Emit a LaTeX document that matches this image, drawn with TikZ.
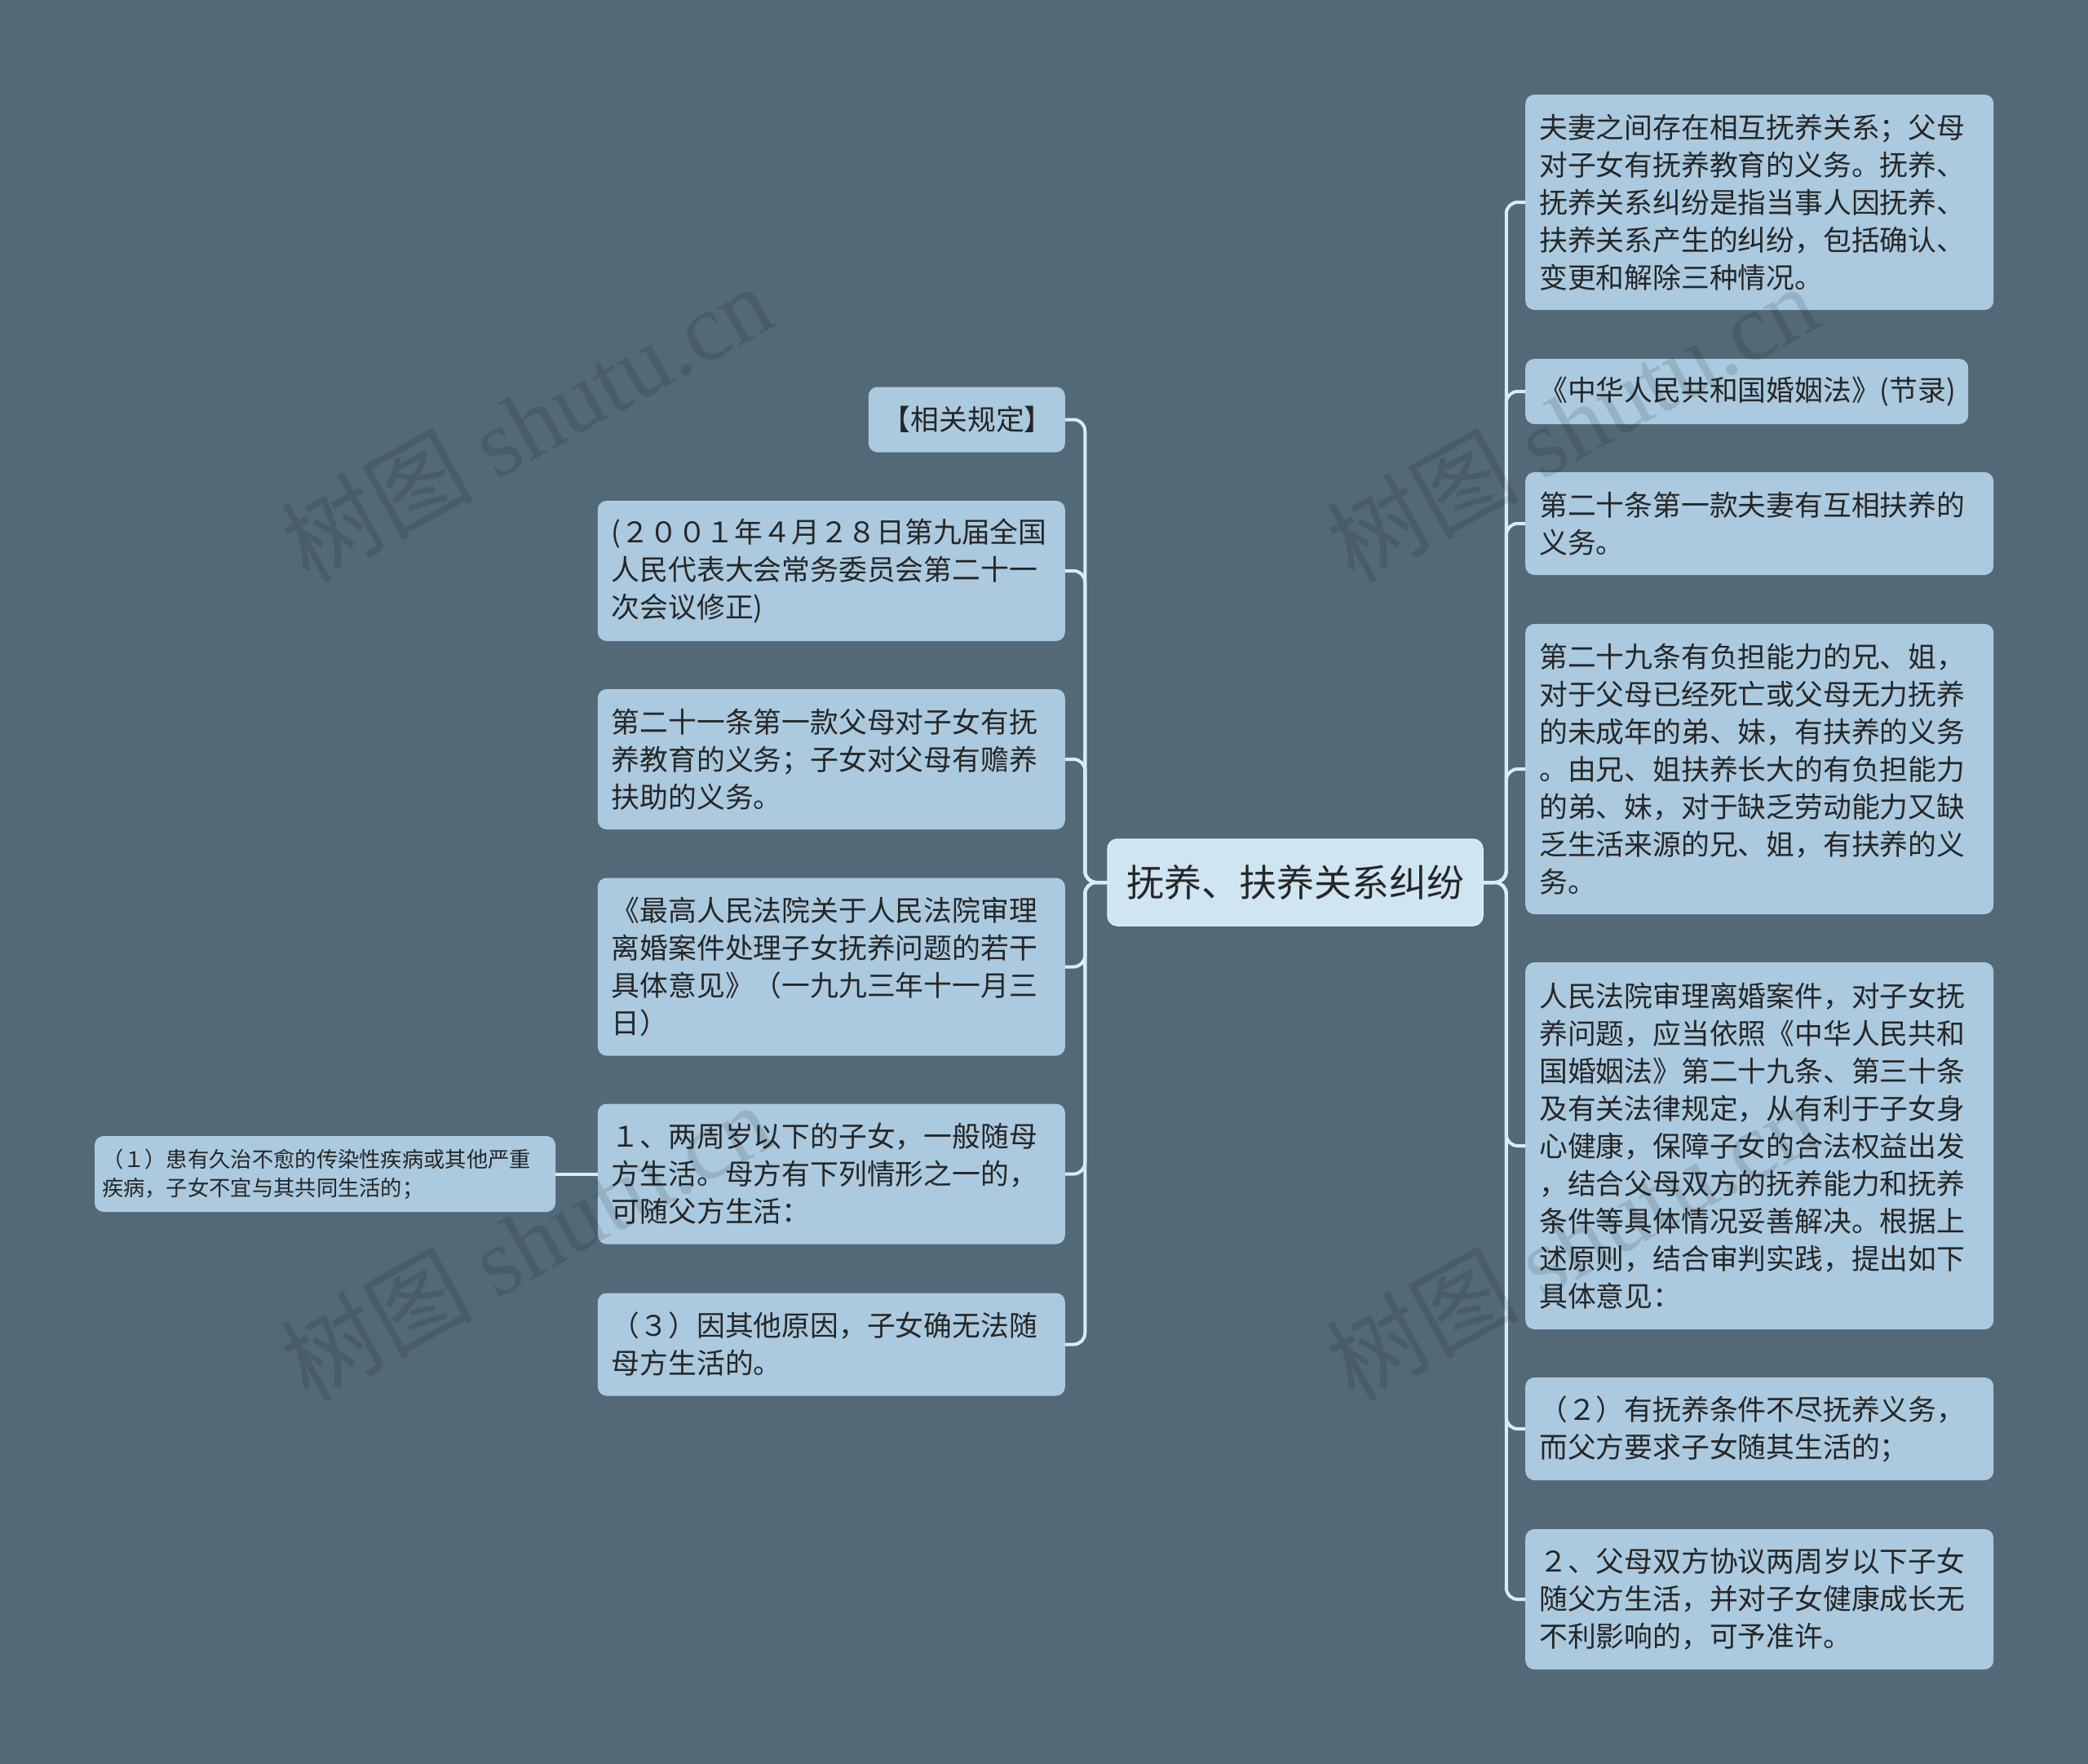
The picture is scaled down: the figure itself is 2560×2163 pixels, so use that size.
\documentclass[tikz,border=0pt]{standalone}
\usepackage{fontspec}
\setmainfont{Noto Sans CJK SC}
\newfontfamily\wmlatin{Liberation Serif}
\definecolor{bgc}{HTML}{536978}
\definecolor{boxc}{HTML}{ABCADF}
\definecolor{rootc}{HTML}{CFE5F1}
\definecolor{rootedge}{HTML}{DDEEF7}
\definecolor{linec}{HTML}{D6ECF6}
\definecolor{txtc}{HTML}{262626}
\begin{document}
\begin{tikzpicture}[x=1pt,y=-1pt,
  box/.style={fill=boxc, rounded corners=11pt, text=txtc, align=left,
    inner xsep=17pt, inner ysep=0pt, font=\fontsize{34.8pt}{46pt}\selectfont},
  rbox/.style={box, anchor=west, text width=540pt},
  lbox/.style={box, anchor=east, text width=539pt},
  smallbox/.style={box, inner xsep=9pt, text width=547pt,
    font=\fontsize{26.3pt}{35pt}\selectfont},
  rootbox/.style={fill=rootc, draw=rootedge, line width=1.5pt, rounded corners=12pt,
    text=txtc, inner sep=0pt, minimum width=460pt, minimum height=106pt,
    font=\fontsize{46pt}{55pt}\selectfont},
  conn/.style={draw=linec, line width=4pt, rounded corners=14pt},
  wm/.style={text=black, text opacity=0.12, rotate=29,
    font=\fontsize{118pt}{120pt}\selectfont}
]
\fill[bgc] (0,0) rectangle (2560,2163);
\useasboundingbox (0,0) rectangle (2560,2163);

% root
\node[rootbox] (root) at (1588,1082) {抚养、扶养关系纠纷};

% right children
\node[rbox, minimum height=264pt] (r1) at (1870,248) {夫妻之间存在相互抚养关系；父母\\对子女有抚养教育的义务。抚养、\\抚养关系纠纷是指当事人因抚养、\\扶养关系产生的纠纷，包括确认、\\变更和解除三种情况。};
\node[rbox, text width=509pt, minimum height=80pt] (r2) at (1870,480) {《中华人民共和国婚姻法》(节录)};
\node[rbox, minimum height=126pt] (r3) at (1870,642) {第二十条第一款夫妻有互相扶养的\\义务。};
\node[rbox, minimum height=356pt] (r4) at (1870,943) {第二十九条有负担能力的兄、姐，\\对于父母已经死亡或父母无力抚养\\的未成年的弟、妹，有扶养的义务\\。由兄、姐扶养长大的有负担能力\\的弟、妹，对于缺乏劳动能力又缺\\乏生活来源的兄、姐，有扶养的义\\务。};
\node[rbox, minimum height=450pt] (r5) at (1870,1405) {人民法院审理离婚案件，对子女抚\\养问题，应当依照《中华人民共和\\国婚姻法》第二十九条、第三十条\\及有关法律规定，从有利于子女身\\心健康，保障子女的合法权益出发\\，结合父母双方的抚养能力和抚养\\条件等具体情况妥善解决。根据上\\述原则，结合审判实践，提出如下\\具体意见：};
\node[rbox, minimum height=126pt] (r6) at (1870,1752) {（２）有抚养条件不尽抚养义务，\\而父方要求子女随其生活的；};
\node[rbox, minimum height=172pt] (r7) at (1870,1961) {２、父母双方协议两周岁以下子女\\随父方生活，并对子女健康成长无\\不利影响的，可予准许。};

% left children
\node[lbox, text width=207pt, minimum height=80pt] (l1) at (1306,514.5) {【相关规定】};
\node[lbox, minimum height=172pt] (l2) at (1306,700) {(２００１年４月２８日第九届全国\\人民代表大会常务委员会第二十一\\次会议修正)};
\node[lbox, minimum height=172pt] (l3) at (1306,931) {第二十一条第一款父母对子女有抚\\养教育的义务；子女对父母有赡养\\扶助的义务。};
\node[lbox, minimum height=218pt] (l4) at (1306,1185.5) {《最高人民法院关于人民法院审理\\离婚案件处理子女抚养问题的若干\\具体意见》（一九九三年十一月三\\日）};
\node[lbox, minimum height=172pt] (l5) at (1306,1439.5) {１、两周岁以下的子女，一般随母\\方生活。母方有下列情形之一的，\\可随父方生活：};
\node[lbox, minimum height=126pt] (l6) at (1306,1648.5) {（３）因其他原因，子女确无法随\\母方生活的。};

% grandchild
\node[smallbox, minimum height=93pt] (ll1) at (398.5,1439.5) {（１）患有久治不愈的传染性疾病或其他严重\\疾病，子女不宜与其共同生活的；};

% connectors
\foreach \n in {r1,r2,r3,r4,r5,r6,r7}
  \draw[conn] (root.east) -- ++(28,0) |- (\n.west);
\foreach \n in {l1,l2,l3,l4,l5,l6}
  \draw[conn] (root.west) -- ++(-27,0) |- (\n.east);
\draw[conn] (l5.west) -- (ll1.east);

% watermarks (semi-transparent, on top)
\node[wm] (wm1) at (645,518) {树图 {\wmlatin shutu.cn}};
\node[wm] (wm2) at (1927,518) {树图 {\wmlatin shutu.cn}};
\node[wm] (wm3) at (645,1522) {树图 {\wmlatin shutu.cn}};
\node[wm] (wm4) at (1927,1522) {树图 {\wmlatin shutu.cn}};
\end{tikzpicture}
\end{document}
